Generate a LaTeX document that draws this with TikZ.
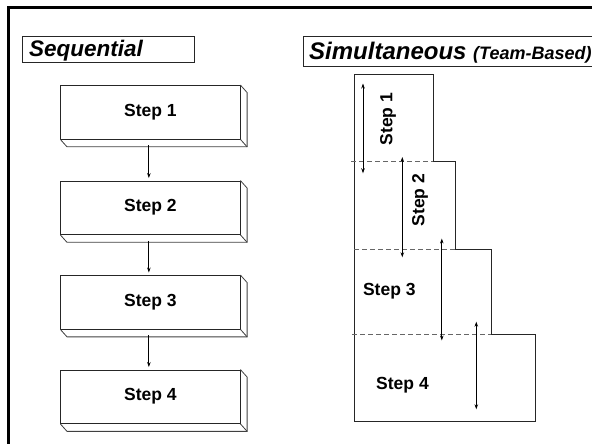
\documentclass[tikz,border=0pt]{standalone}
\usepackage{fontspec}
\setmainfont{Liberation Sans}
\usetikzlibrary{arrows.meta}
\begin{document}
\begin{tikzpicture}[x=1bp,y=-1bp,
  lbl/.style={font=\fontsize{17.5bp}{20bp}\selectfont\bfseries},
  ttl/.style={font=\fontsize{22.5bp}{26bp}\selectfont\bfseries\itshape, inner sep=0},
  stepbox/.style={draw=black!85, line width=0.8bp, minimum width=179.3bp, minimum height=53.5bp, inner sep=0, fill=white, lbl},
  face/.style={draw=black!75, line width=0.8bp, line join=miter},
  flow/.style={-{Stealth[length=5bp,width=3.5bp]}, line width=1bp},
  span/.style={{Stealth[length=5bp,width=3.5bp]}-{Stealth[length=5bp,width=3.5bp]}, line width=0.9bp},
  sep/.style={dash pattern=on 5bp off 3bp, draw=black!60, line width=0.8bp},
  outline/.style={draw=black!85, line width=0.8bp},
  titlebox/.style={draw=black!85, line width=0.8bp, inner sep=0},
  ]
\useasboundingbox (0,0) rectangle (592,444);
\clip (0,0) rectangle (592,444);
% outer frame
\draw[line width=3bp] (8,460) -- (8,8) -- (610,8);

% titles
\node[titlebox, minimum width=172.3bp, minimum height=26.3bp, anchor=north west] (seqbox) at (21.7,36) {};
\node[ttl, anchor=base west] (seqt) at (29,56.8) {Sequential};
\node[titlebox, minimum width=320bp, minimum height=29.7bp, anchor=north west] (simbox) at (302.7,36) {};
\node[ttl, anchor=base west] (simt) at (309,59.5) {\fontsize{24bp}{28bp}\selectfont Simultaneous \fontsize{18bp}{21bp}\selectfont(Team-Based)};

% sequential boxes
\foreach \n/\yy in {1/112.2, 2/207.7, 3/302.2, 4/396.7}{
  \node[stepbox] (s\n) at (150.35,\yy) {Step \n};
  \draw[face] (s\n.north east) -- ++(6.7,7.5) -- ([shift={(6.7,7.5)}]s\n.south east)
     -- ([shift={(6.7,7.5)}]s\n.south west) -- (s\n.south west);
  \draw[face] (s\n.south east) -- ++(6.7,7.5);
}
\foreach \a/\b in {1/2, 2/3, 3/4}{
  \draw[flow] ([shift={(-1.5,6)}]s\a.south) -- ([shift={(-1.5,-2.5)}]s\b.north);
}

% simultaneous staircase
\draw[outline] (354,74.5) -| (433,161.5) -| (455,249) -| (491,334) -| (535,421) -| cycle;
\draw[sep] (351,161.5) -- (433,161.5);
\draw[sep] (354,249) -- (455,249);
\draw[sep] (352,334) -- (491,334);

\node[lbl, rotate=90] (t1) at (388,119) {Step 1};
\node[lbl, rotate=90] (t2) at (420,200) {Step 2};
\node[lbl] (t3) at (389.3,291.7) {Step 3};
\node[lbl] (t4) at (402.5,385) {Step 4};

\coordinate (a1t) at (363,83.5);  \coordinate (a1b) at (363,173.3);
\coordinate (a2t) at (402.3,157); \coordinate (a2b) at (402.3,257.3);
\coordinate (a3t) at (441.8,238.5); \coordinate (a3b) at (441.8,340.5);
\coordinate (a4t) at (476.3,321.7); \coordinate (a4b) at (476.3,409.3);
\draw[span] (a1t) -- (a1b);
\draw[span] (a2t) -- (a2b);
\draw[span] (a3t) -- (a3b);
\draw[span] (a4t) -- (a4b);
\end{tikzpicture}
\end{document}
